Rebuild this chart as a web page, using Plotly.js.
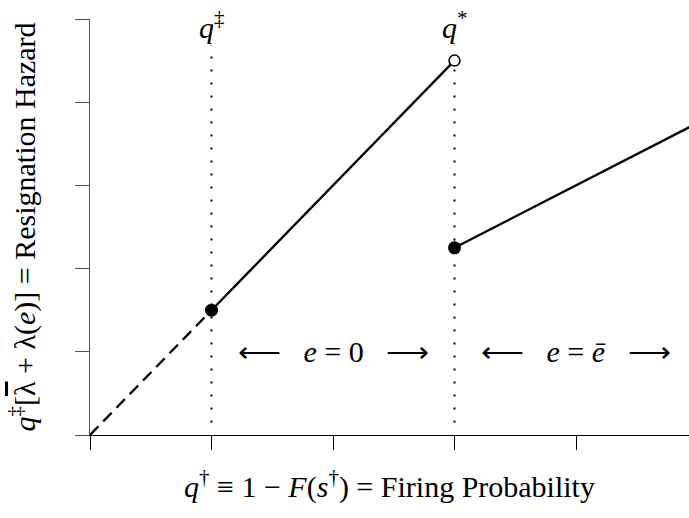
<!DOCTYPE html>
<html>
<head>
<meta charset="utf-8">
<script src="https://cdn.plot.ly/plotly-3.0.1.min.js"></script>
<style>
  html, body { margin: 0; padding: 0; background: #fff; }
  #chart { width: 689px; height: 518px; }
</style>
</head>
<body>
<div id="chart"></div>
<script>
// piecewise hazard
const xDashed = [0, 1];
const yDashed = [0, 1.5];
const xLow = [1, 3];          // e = 0 branch
const yLow = [1.5, 4.5];
const xHigh = [3, 5];         // e = e-bar branch
const yHigh = [2.25, 3.75];
const closedX = [1, 3];
const closedY = [1.5, 2.25];
const openX = [3];
const openY = [4.5];
const thresholdX = [1, 3];
const thresholdLabels = ['<i>q</i><sup>‡</sup>', '<i>q</i><sup>*</sup>'];
const dottedY = [0.15, 4.8];
const regionX = [2, 4];
const regionLabels = ['⟵\u00a0\u00a0\u00a0<i>e</i> = 0\u00a0\u00a0\u00a0⟶',
                      '⟵\u00a0\u00a0\u00a0<i>e</i> = <i>ē</i>\u00a0\u00a0\u00a0⟶'];
const tickX = [0, 1, 2, 3, 4];
const tickY = [0, 1, 2, 3, 4, 5];

// only a single family name gets through here
const serif = 'Liberation Serif';

const data = [];
thresholdX.forEach(function (x) {
    data.push({
        x: [x, x], y: dottedY, type: 'scatter', mode: 'lines',
        line: { color: 'black', width: 2, dash: '2px,11px' },
        hoverinfo: 'skip'
    });
});
data.push({
    x: xDashed, y: yDashed, type: 'scatter', mode: 'lines',
    line: { color: 'black', width: 2.3, dash: '12px,7px' }
});
data.push({
    x: xLow, y: yLow, type: 'scatter', mode: 'lines',
    line: { color: 'black', width: 2.3 }
});
data.push({
    x: xHigh, y: yHigh, type: 'scatter', mode: 'lines',
    line: { color: 'black', width: 2.3 }
});
data.push({
    x: closedX, y: closedY, type: 'scatter', mode: 'markers',
    marker: { color: 'black', size: 13 }
});
data.push({
    x: openX, y: openY, type: 'scatter', mode: 'markers',
    marker: { color: 'white', size: 11, line: { color: 'black', width: 1.5 } }
});

const annotations = [];
thresholdX.forEach(function (x, i) {
    annotations.push({
        x: x, y: 5, xref: 'x', yref: 'y', yshift: -6,
        text: thresholdLabels[i], showarrow: false,
        font: { family: serif, size: 30, color: 'black' },
        bgcolor: 'white'
    });
});
regionX.forEach(function (x, i) {
    annotations.push({
        x: x, y: 1, xref: 'x', yref: 'y',
        text: regionLabels[i], showarrow: false,
        font: { family: serif, size: 30, color: 'black' }
    });
});

const layout = {
    width: 689,
    height: 518,
    margin: { l: 90, r: 0, t: 19, b: 83 },
    paper_bgcolor: 'white',
    plot_bgcolor: 'white',
    showlegend: false,
    font: { family: serif },
    xaxis: {
        range: [0, 4.93],
        tickvals: tickX, showticklabels: false,
        ticks: 'outside', ticklen: 14, tickcolor: 'black', tickwidth: 1,
        showline: true, linecolor: 'black', linewidth: 1.3,
        showgrid: false, zeroline: false,
        title: {
            text: '<i>q</i><sup>†</sup> ≡ 1 − <i>F</i>(<i>s</i><sup>†</sup>) = Firing Probability',
            font: { family: serif, size: 30, color: 'black' },
            standoff: 26
        }
    },
    yaxis: {
        range: [0, 5],
        tickvals: tickY, showticklabels: false,
        ticks: 'outside', ticklen: 14, tickcolor: '#555', tickwidth: 1,
        showline: true, linecolor: '#555', linewidth: 1,
        showgrid: false, zeroline: false,
        title: {
            text: '<i>q</i><sup>‡</sup>[<span style="text-decoration:overline">λ</span> + λ(<i>e</i>)] = Resignation Hazard',
            font: { family: serif, size: 30, color: 'black' },
            standoff: 30
        }
    },
    annotations: annotations
};

Plotly.newPlot('chart', data, layout, { displayModeBar: false, staticPlot: true });
</script>
</body>
</html>
